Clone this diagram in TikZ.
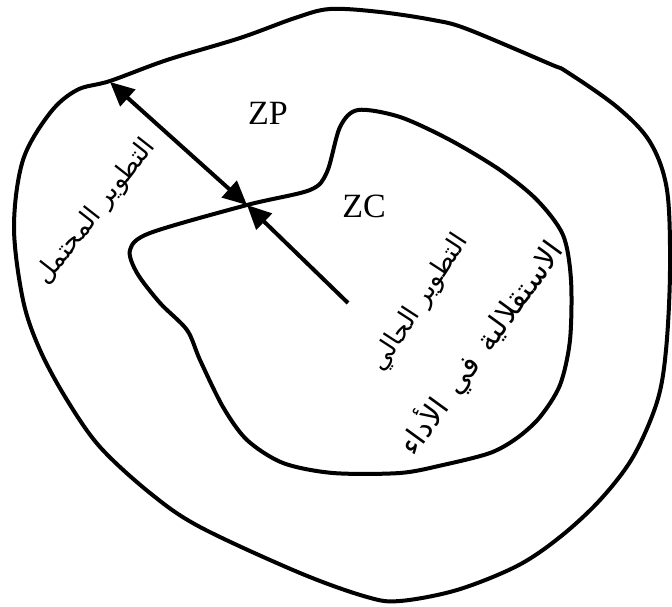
\documentclass[tikz,border=0pt]{standalone}
\usepackage{fontspec}
\setmainfont{Liberation Serif}
\newfontfamily\arabicfont[Script=Arabic]{DejaVu Sans}
\TeXXeTstate=1
\usetikzlibrary{arrows.meta}
\tikzset{
  blob/.style={line width=4pt, line join=round},
  arr/.style={line width=4pt, -{Triangle[length=24pt,width=22pt]}},
  darr/.style={line width=4pt, {Triangle[length=24pt,width=22pt]}-{Triangle[length=24pt,width=22pt]}},
  lat/.style={font=\fontsize{34}{36}\selectfont, inner sep=0pt},
  arab/.style={font=\arabicfont\fontsize{26}{30}\selectfont, inner sep=0pt}
}
\begin{document}
\begin{tikzpicture}[x=1pt,y=-1pt]
\useasboundingbox (0,0) rectangle (672,607);
% outer zone
\draw[blob] plot[smooth cycle, tension=0.55] coordinates {
(330,9) (380,12) (433,20) (467,29) (550,64) (567,72) (617,107) (650,142) (667,190)
(670,270) (666,350) (657,402) (633,457) (600,500) (560,537) (517,566) (457,590)
(400,601) (367,597) (300,573) (200,527) (150,493) (100,447) (67,400) (40,350)
(23,300) (14,227) (23,160) (50,113) (77,90) (110,81) (167,60) (240,38) (295,18)};
% inner zone
\draw[blob] plot[smooth cycle, tension=0.5] coordinates {
(247,205) (310,190) (327,172) (340,127) (358,110) (400,117) (450,140) (500,170)
(537,200) (563,235) (571,280) (570,340) (560,385) (540,417) (517,438) (490,453)
(443,465) (400,473) (333,473) (283,463) (247,440) (223,407) (200,360) (187,330)
(160,303) (137,273) (130,250) (150,233)};
\coordinate (po) at (110,82);
\coordinate (pc) at (247,205);
\coordinate (pi) at (348,303);
\draw[darr] (po) -- (pc);
\draw[arr] (pi) -- (pc);
\node[lat] (zp) at (268,113) {ZP};
\node[lat] (zc) at (364,206) {ZC};
\node[arab, rotate=52] (t1) at (96,212) {\beginR التطوير المحتمل\endR};
\node[arab, rotate=57] (t2) at (420,303) {\beginR التطوير الحالي\endR};
\node[arab, font=\arabicfont\fontsize{30}{34}\selectfont, rotate=54] (t3) at (481,348) {\beginR الاستقلالية\hspace{14pt}في\hspace{14pt}الأداء\endR};
\end{tikzpicture}
\end{document}
